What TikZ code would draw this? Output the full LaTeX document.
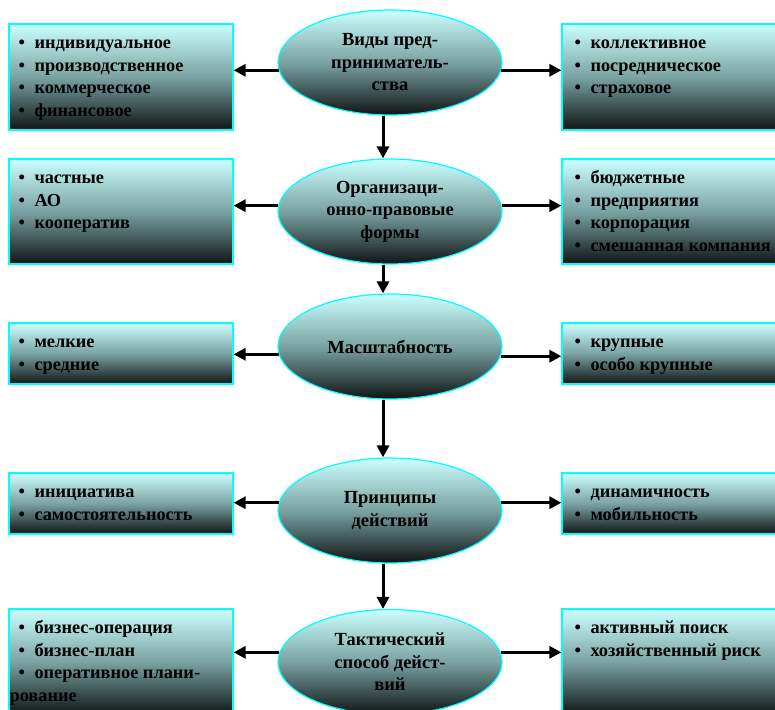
\documentclass[tikz,border=0pt]{standalone}
\usepackage{fontspec}
\setmainfont{Liberation Serif}
\usetikzlibrary{arrows.meta,shapes.geometric}
\definecolor{gtop}{RGB}{204,255,255}
\definecolor{gmid}{RGB}{122,162,162}
\definecolor{gbot}{RGB}{14,20,20}
\definecolor{rim}{RGB}{0,255,255}
\newcommand{\bl}{\textbullet\hspace{9.5pt}}
\begin{document}
\begin{tikzpicture}[
  grad/.style={top color=gtop, bottom color=gbot, middle color=gmid, draw=rim, line width=1.2pt},
  oval/.style={grad, ellipse, minimum width=224pt, minimum height=105pt, inner sep=0pt, align=center,
    font=\fontsize{18.5}{22.5}\selectfont\bfseries},
  panel/.style={grad, rectangle, minimum width=224pt, inner sep=0pt},
  list/.style={anchor=north west, inner sep=0pt, align=left,
    font=\fontsize{18.3}{22.5}\selectfont\bfseries},
  arr/.style={line width=3pt, -{Triangle[length=12pt,width=12pt]}}]
\useasboundingbox (0pt,0pt) rectangle (775pt,-709pt);
% ellipses
\node[oval] (e1) at (390pt,-62.5pt) {Виды пред-\\приниматель-\\ства};
\node[oval] (e2) at (390pt,-211.5pt) {Организаци-\\онно-правовые\\формы};
\node[oval] (e3) at (390pt,-346.5pt) {Масштабность};
\node[oval] (e4) at (390pt,-510.5pt) {Принципы\\действий};
\node[oval] (e5) at (390pt,-662pt) {Тактический\\способ дейст-\\вий};
% panels
\node[panel, minimum height=106pt] (l1) at (121pt,-77pt) {};
\node[panel, minimum height=106pt] (r1) at (674pt,-77pt) {};
\node[panel, minimum height=105pt] (l2) at (121pt,-211.5pt) {};
\node[panel, minimum height=105pt] (r2) at (674pt,-211.5pt) {};
\node[panel, minimum height=61pt] (l3) at (121pt,-353.5pt) {};
\node[panel, minimum height=61pt] (r3) at (674pt,-353.5pt) {};
\node[panel, minimum height=61pt] (l4) at (121pt,-503.5pt) {};
\node[panel, minimum height=61pt] (r4) at (674pt,-503.5pt) {};
\node[panel, minimum height=106pt] (l5) at (121pt,-662pt) {};
\node[panel, minimum height=106pt] (r5) at (674pt,-662pt) {};
% texts
\node[list] (t1) at ([xshift=10pt,yshift=-9.5pt]l1.north west) {\strut\bl индивидуальное\\\bl производственное\\\bl коммерческое\\\bl финансовое};
\node[list] (u1) at ([xshift=13pt,yshift=-9.5pt]r1.north west) {\strut\bl коллективное\\\bl посредническое\\\bl страховое};
\node[list] (t2) at ([xshift=10pt,yshift=-9.5pt]l2.north west) {\strut\bl частные\\\bl АО\\\bl кооператив};
\node[list] (u2) at ([xshift=13pt,yshift=-9.5pt]r2.north west) {\strut\bl бюджетные\\\bl предприятия\\\bl корпорация\\\bl смешанная компания};
\node[list] (t3) at ([xshift=10pt,yshift=-9.5pt]l3.north west) {\strut\bl мелкие\\\bl средние};
\node[list] (u3) at ([xshift=13pt,yshift=-9.5pt]r3.north west) {\strut\bl крупные\\\bl особо крупные};
\node[list] (t4) at ([xshift=10pt,yshift=-9.5pt]l4.north west) {\strut\bl инициатива\\\bl самостоятельность};
\node[list] (u4) at ([xshift=13pt,yshift=-9.5pt]r4.north west) {\strut\bl динамичность\\\bl мобильность};
\node[list] (t5) at ([xshift=10pt,yshift=-9.5pt]l5.north west) {\strut\bl бизнес-операция\\\bl бизнес-план\\\bl оперативное плани-\\\hspace*{-9pt}рование};
\node[list] (u5) at ([xshift=13pt,yshift=-9.5pt]r5.north west) {\strut\bl активный поиск\\\bl хозяйственный риск};
% horizontal arrows
\draw[arr] (e1.184) -- (e1.184 -| l1.east);
\draw[arr] (e1.356) -- (e1.356 -| r1.west);
\draw[arr] (e2.177) -- (e2.177 -| l2.east);
\draw[arr] (e2.3) -- (e2.3 -| r2.west);
\draw[arr] (e3.184.5) -- (e3.184.5 -| l3.east);
\draw[arr] (e3.355.5) -- (e3.355.5 -| r3.west);
\draw[arr] (e4.176) -- (e4.176 -| l4.east);
\draw[arr] (e4.4) -- (e4.4 -| r4.west);
\draw[arr] (e5.175) -- (e5.175 -| l5.east);
\draw[arr] (e5.5) -- (e5.5 -| r5.west);
% vertical arrows
\draw[arr] ([xshift=-7pt]e1.south) -- ([xshift=-7pt]e2.north);
\draw[arr] ([xshift=-7pt]e2.south) -- ([xshift=-7pt]e3.north);
\draw[arr] ([xshift=-7pt]e3.south) -- ([xshift=-7pt]e4.north);
\draw[arr] ([xshift=-7pt]e4.south) -- ([xshift=-7pt]e5.north);
\end{tikzpicture}
\end{document}
